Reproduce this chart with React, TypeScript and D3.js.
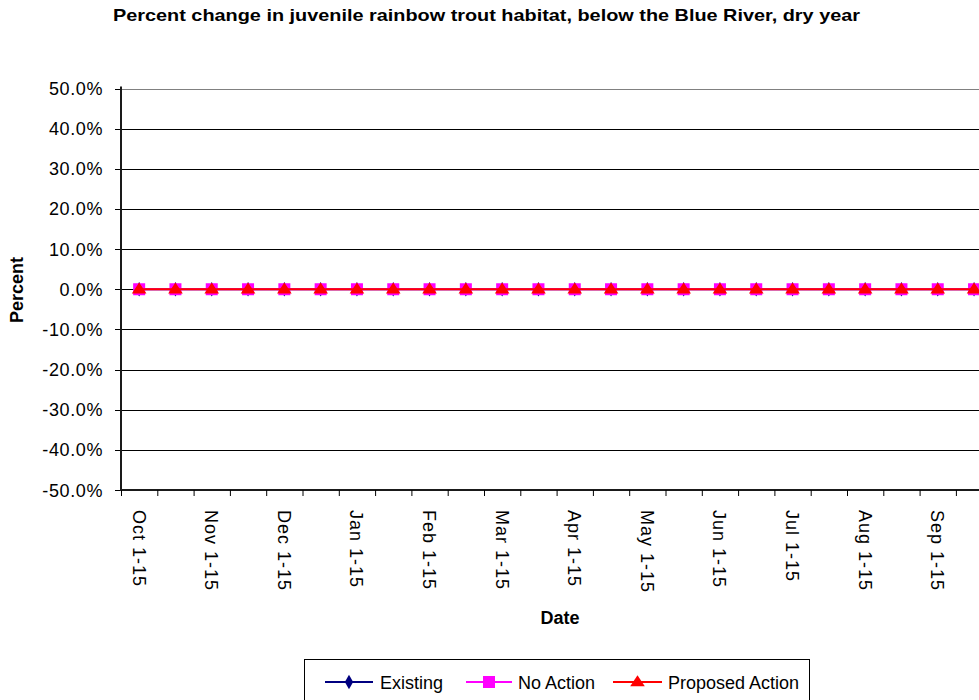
import React from "react";
import * as d3 from "d3";

const categories = [
  "Oct 1-15", "Oct 16-31", "Nov 1-15", "Nov 16-30", "Dec 1-15", "Dec 16-31",
  "Jan 1-15", "Jan 16-31", "Feb 1-15", "Feb 16-28", "Mar 1-15", "Mar 16-31",
  "Apr 1-15", "Apr 16-30", "May 1-15", "May 16-31", "Jun 1-15", "Jun 16-30",
  "Jul 1-15", "Jul 16-31", "Aug 1-15", "Aug 16-31", "Sep 1-15", "Sep 16-30",
];
const existing = [0, 0, 0, 0, 0, 0, 0, 0, 0, 0, 0, 0, 0, 0, 0, 0, 0, 0, 0, 0, 0, 0, 0, 0];
const noAction = [0, 0, 0, 0, 0, 0, 0, 0, 0, 0, 0, 0, 0, 0, 0, 0, 0, 0, 0, 0, 0, 0, 0, 0];
const proposedAction = [0, 0, 0, 0, 0, 0, 0, 0, 0, 0, 0, 0, 0, 0, 0, 0, 0, 0, 0, 0, 0, 0, 0, 0];
const yTicks = [-0.5, -0.4, -0.3, -0.2, -0.1, 0, 0.1, 0.2, 0.3, 0.4, 0.5];
const seriesNames = ["Existing", "No Action", "Proposed Action"];

const W = 979;
const H = 700;
const left = 121;
const top = 88.5;
const bottom = 490;
const bandW = 36.3;
const right = left + bandW * categories.length;
const FONT = "'Liberation Sans', Arial, sans-serif";

export default function App() {
  const x = d3.scaleBand<string>().domain(categories).range([left, right]).padding(0);
  const y = d3.scaleLinear().domain([-0.5, 0.5]).range([bottom, top]);
  const cx = (c: string) => (x(c) as number) + x.bandwidth() / 2;
  const line = d3
    .line<number>()
    .x((_, i) => cx(categories[i]))
    .y((d) => y(d));
  const fmt0 = d3.format(".1%");
  const fmt = (t: number) => fmt0(t).replace("\u2212", "-");
  const tri = d3.symbol().type(d3.symbolTriangle).size(70)();
  const dia = d3.symbol().type(d3.symbolDiamond).size(60)();

  const seriesColors = ["#000080", "#FF00FF", "#FF0000"];
  const seriesData = [existing, noAction, proposedAction];

  const marker = (k: number, px: number, py: number, key: string | number) => {
    if (k === 0)
      return <path key={key} d={dia as string} transform={`translate(${px},${py})`} fill="#000080" />;
    if (k === 1)
      return <rect key={key} x={px - 6} y={py - 6} width={12} height={12} fill="#FF00FF" />;
    return <path key={key} d={tri as string} transform={`translate(${px},${py + 0.5}) scale(1.15,1)`} fill="#FF0000" />;
  };

  const legendItems = [
    { x0: 325, x1: 373, tx: 380 },
    { x0: 466, x1: 512, tx: 518 },
    { x0: 613, x1: 662, tx: 668 },
  ];

  return (
    <div style={{ position: "absolute", left: 0, top: 0 }}>
      <svg width={W} height={H} style={{ display: "block", background: "#fff" }} fontFamily={FONT}>
        <rect x={0} y={0} width={W} height={H} fill="#fff" />
        <text x={486.5} y={21} textAnchor="middle" fontSize={17} fontWeight="bold" fill="#000" textLength={747} lengthAdjust="spacingAndGlyphs">
          Percent change in juvenile rainbow trout habitat, below the Blue River, dry year
        </text>

        {/* gridlines */}
        {yTicks.map((t) => (
          <line
            key={"g" + t}
            x1={left}
            x2={right}
            y1={Math.round(y(t)) + 0.5}
            y2={Math.round(y(t)) + 0.5}
            stroke={t === 0.5 ? "#808080" : "#000"}
            strokeWidth={1}
          />
        ))}
        {/* y ticks & labels */}
        {yTicks.map((t) => (
          <g key={"yt" + t}>
            <line x1={115} x2={left} y1={Math.round(y(t)) + 0.5} y2={Math.round(y(t)) + 0.5} stroke="#000" />
            <text x={103} y={y(t) + 6.5} textAnchor="end" fontSize={18} letterSpacing={0.6} fill="#000">
              {fmt(t)}
            </text>
          </g>
        ))}
        {/* axes */}
        <line x1={left} x2={left} y1={top - 2} y2={bottom + 1} stroke="#1a1a1a" strokeWidth={2} />
        <line x1={left} x2={right} y1={bottom} y2={bottom} stroke="#1a1a1a" strokeWidth={2} />
        {/* x ticks */}
        {categories.map((c, i) => (
          <line key={"xt" + i} x1={(x(c) as number) + 0.5} x2={(x(c) as number) + 0.5} y1={bottom} y2={bottom + 6} stroke="#000" />
        ))}
        {categories.map((c, i) =>
          i % 2 === 0 ? (
            <text
              key={"xl" + i}
              transform={`translate(${cx(c) - 6.5},510) rotate(90)`}
              textAnchor="start"
              fontSize={18}
              letterSpacing={1}
              fill="#000"
            >
              {c}
            </text>
          ) : null
        )}
        <text x={560} y={624} textAnchor="middle" fontSize={18} fontWeight="bold" fill="#000">
          Date
        </text>
        <text transform={`translate(23,290) rotate(-90)`} textAnchor="middle" fontSize={18} fontWeight="bold" fill="#000">
          Percent
        </text>

        {/* series */}
        {seriesData.map((data, k) => (
          <g key={"s" + k}>
            <path d={line(data) as string} fill="none" stroke={seriesColors[k]} strokeWidth={2} />
            {data.map((v, i) => marker(k, cx(categories[i]), y(v), i))}
          </g>
        ))}

        {/* legend */}
        <rect x={304.5} y={659.5} width={505} height={50} fill="#fff" stroke="#000" strokeWidth={1} />
        {legendItems.map((it, k) => (
          <g key={"lg" + k}>
            <line x1={it.x0} x2={it.x1} y1={682} y2={682} stroke={seriesColors[k]} strokeWidth={2} />
            {marker(k, (it.x0 + it.x1) / 2, 682, "m")}
            <text x={it.tx} y={688.5} fontSize={18} fill="#000">
              {seriesNames[k]}
            </text>
          </g>
        ))}
      </svg>
    </div>
  );
}
